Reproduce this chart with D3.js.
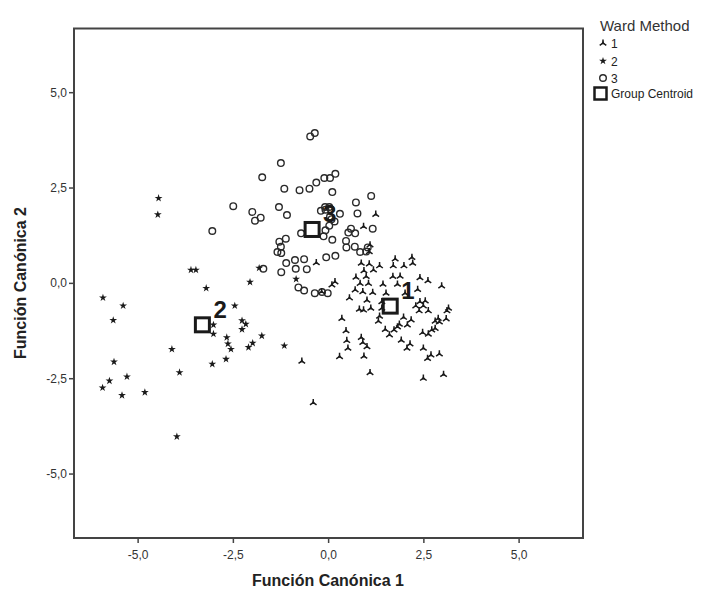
<!DOCTYPE html>
<html><head><meta charset="utf-8">
<script src="https://cdn.jsdelivr.net/npm/d3@7"></script>
<style>body{margin:0;background:#fff}svg{display:block;font-family:"Liberation Sans",Arial,sans-serif}</style>
</head><body><svg id="c" width="706" height="590"></svg>
<script>
// Group 1 (triangles)
const g1x = [1.10,1.08,1.76,2.20,2.22,0.87,1.08,1.35,1.71,1.99,0.94,1.19,0.73,1.00,0.84,1.06,1.70,1.89,2.41,2.62,0.18,0.10,-0.17,1.44,1.82,1.52,2.98,0.71,0.56,0.91,1.17,2.35,2.02,1.02,1.41,1.41,2.41,2.55,2.30,2.50,2.63,2.39,0.82,0.93,1.12,3.16,3.12,0.36,1.35,1.32,1.98,2.18,2.08,2.89,2.81,2.92,3.10,1.50,1.61,1.73,1.82,1.87,2.48,2.63,2.72,2.81,0.47,0.49,0.52,0.87,0.91,1.02,1.92,2.15,2.07,2.50,2.70,2.61,2.92,0.30,0.94,1.10,2.50,3.03,-0.39,-0.69,1.25,-0.31,0.93];
const g1y = [1.00,0.82,0.63,0.67,0.52,0.52,0.50,0.45,0.45,0.45,0.32,0.34,0.15,0.17,-0.01,-0.01,0.17,0.18,0.14,0.06,0.03,-0.05,-0.23,-0.03,-0.03,-0.27,-0.08,-0.18,-0.39,-0.23,-0.25,-0.17,-0.27,-0.45,-0.49,-0.66,-0.49,-0.47,-0.60,-0.60,-0.73,-0.73,-0.69,-0.71,-0.66,-0.66,-0.73,-0.93,-0.87,-1.00,-0.90,-0.97,-1.10,-0.93,-1.00,-1.02,-0.94,-1.22,-1.36,-1.23,-1.15,-1.08,-1.30,-1.34,-1.23,-1.19,-1.25,-1.51,-1.71,-1.43,-1.56,-1.67,-1.50,-1.60,-1.71,-1.71,-1.89,-1.98,-1.86,-1.93,-1.92,-2.35,-2.50,-2.40,-3.14,-2.05,1.80,0.53,1.48];
// Group 2 (stars)
const g2x = [-4.45,-4.47,-3.60,-3.47,-3.20,-5.91,-5.38,-2.45,-5.64,-3.01,-3.01,-2.26,-2.16,-2.26,-2.05,-1.81,-2.66,-2.63,-2.55,-1.74,-1.98,-2.09,-4.10,-2.68,-3.04,-5.62,-3.90,-5.28,-5.74,-5.92,-5.41,-4.81,-3.97,-1.15,-0.84];
const g2y = [2.22,1.79,0.34,0.34,-0.14,-0.39,-0.60,-0.60,-0.98,-1.10,-1.34,-0.99,-1.08,-1.22,0.02,0.39,-1.43,-1.60,-1.74,-1.39,-1.58,-1.69,-1.74,-2.00,-2.13,-2.07,-2.35,-2.46,-2.57,-2.75,-2.95,-2.87,-4.03,-1.65,0.10];
// Group 3 (circles)
const g3x = [-0.47,-0.35,-1.24,-1.73,-0.10,0.05,0.19,-0.31,-0.49,-0.75,-1.15,0.11,1.13,-2.49,0.73,-0.08,0.03,0.07,-0.07,-0.19,-1.29,0.77,0.31,0.05,0.09,-1.99,-1.77,-1.92,-1.08,0.17,0.03,-0.07,0.60,0.71,0.53,1.17,-0.71,-0.12,-1.11,0.11,-1.28,-1.24,-1.33,-1.23,0.47,0.48,0.70,0.84,1.04,1.00,-1.70,-1.23,-0.87,-0.63,-0.85,-0.56,-1.10,-0.05,0.19,-0.78,-0.63,-0.35,-0.16,-0.01,-3.04];
const g3y = [3.84,3.93,3.14,2.77,2.75,2.75,2.86,2.63,2.47,2.43,2.47,2.38,2.28,2.01,2.11,1.99,1.99,1.93,1.92,1.89,1.99,1.82,1.81,1.74,1.67,1.86,1.71,1.63,1.78,1.61,1.50,1.38,1.42,1.30,1.32,1.42,1.30,1.22,1.16,1.13,1.08,0.95,0.81,0.78,1.10,0.93,0.95,0.81,0.93,0.82,0.37,0.28,0.60,0.62,0.37,0.36,0.52,0.67,0.71,-0.12,-0.20,-0.27,-0.24,-0.27,1.36];
// Group centroids
const centroidLabels = ["1","2","3"];
const centroidX = [1.63,-3.30,-0.42];
const centroidY = [-0.61,-1.10,1.40];
const tickValues = [-5,-2.5,0,2.5,5];
const legendLabels = ["1","2","3","Group Centroid"];

const svg = d3.select("#c");
const x = d3.scaleLinear().domain([-6.67,6.69]).range([74,583]);
const y = d3.scaleLinear().domain([-6.69,6.67]).range([538,28.5]);
const fmt = v => d3.format(".1f")(v).replace(".", ",").replace("\u2212", "-");
const ink = "#1a1a1a";

// axes
const xa = svg.append("g").attr("transform","translate(0,538)")
  .call(d3.axisBottom(x).tickValues(tickValues).tickFormat(fmt).tickSize(5).tickSizeOuter(0));
const ya = svg.append("g").attr("transform","translate(74,0)")
  .call(d3.axisLeft(y).tickValues(tickValues).tickFormat(fmt).tickSize(5).tickSizeOuter(0));
[xa,ya].forEach(a=>{
  a.select(".domain").remove();
  a.selectAll("line").attr("stroke","#444").attr("stroke-width",1.5);
  a.selectAll("text").attr("fill","#333").style("font-size","12px").style("font-family","'Liberation Sans',Arial,sans-serif");
});
xa.selectAll("text").attr("dy","1.1em");
ya.selectAll("text").attr("x",-7);

svg.append("rect").attr("x",74).attr("y",28.5).attr("width",509).attr("height",509.5)
  .attr("fill","none").attr("stroke","#444").attr("stroke-width",2);

// titles
svg.append("text").attr("x",328).attr("y",586).attr("text-anchor","middle")
  .attr("font-size",16).attr("font-weight","bold").attr("fill","#222").text("Función Canónica 1");
svg.append("text").attr("transform","translate(26,283) rotate(-90)").attr("text-anchor","middle")
  .attr("font-size",16).attr("font-weight","bold").attr("fill","#222").text("Función Canónica 2");

// marker shapes
const triPath = "M0,0L0,-3.6M0,0L-3.3,2.3M0,0L3.3,2.3";
const triCore = "M0,-2.2L1.9,1.2L-1.9,1.2Z";
function drawTri(g){
  g.append("path").attr("d",triPath).attr("stroke",ink).attr("stroke-width",1.5).attr("fill","none");
  g.append("path").attr("d",triCore).attr("fill",ink);
}
const starPath = d3.symbol().type(d3.symbolStar).size(19)();

const pts = svg.append("g");
d3.range(g3x.length).forEach(i=>{
  pts.append("circle").attr("cx",x(g3x[i])).attr("cy",y(g3y[i])).attr("r",3.3)
    .attr("fill","none").attr("stroke","#2a2a2a").attr("stroke-width",1.4);
});
d3.range(g2x.length).forEach(i=>{
  pts.append("path").attr("d",starPath).attr("transform",`translate(${x(g2x[i])},${y(g2y[i])})`).attr("fill",ink);
});
d3.range(g1x.length).forEach(i=>{
  drawTri(pts.append("g").attr("transform",`translate(${x(g1x[i])},${y(g1y[i])})`));
});

// centroids
centroidLabels.forEach((lab,i)=>{
  const cx = x(centroidX[i]), cy = y(centroidY[i]);
  svg.append("rect").attr("x",cx-7).attr("y",cy-7).attr("width",14).attr("height",14)
    .attr("fill","none").attr("stroke",ink).attr("stroke-width",3);
  svg.append("text").attr("x",cx+11).attr("y",cy-7).attr("font-size",24).attr("font-weight","bold")
    .attr("fill",ink).text(lab);
});

// legend
svg.append("text").attr("x",600).attr("y",31).attr("font-size",15).attr("fill","#333").text("Ward Method");
const ly = [43,61,78];
drawTri(svg.append("g").attr("transform",`translate(603,${ly[0]})`));
svg.append("path").attr("d",starPath).attr("transform",`translate(603,${ly[1]})`).attr("fill",ink);
svg.append("circle").attr("cx",603).attr("cy",ly[2]).attr("r",3.3).attr("fill","none").attr("stroke","#2a2a2a").attr("stroke-width",1.4);
legendLabels.slice(0,3).forEach((t,i)=>{
  svg.append("text").attr("x",611).attr("y",ly[i]+4.5).attr("font-size",12).attr("fill","#222").text(t);
});
svg.append("rect").attr("x",594.5).attr("y",87.5).attr("width",12).attr("height",12)
  .attr("fill","none").attr("stroke",ink).attr("stroke-width",2.5);
svg.append("text").attr("x",611).attr("y",98).attr("font-size",12).attr("fill","#222").text(legendLabels[3]);
</script></body></html>
